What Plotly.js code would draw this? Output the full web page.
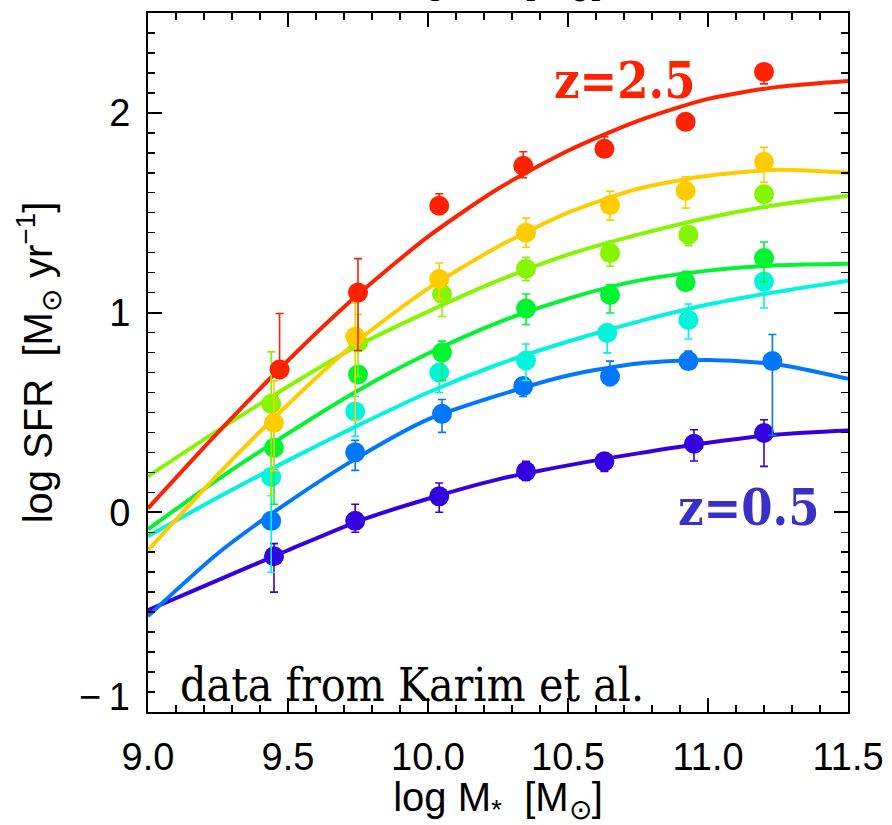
<!DOCTYPE html>
<html>
<head>
<meta charset="utf-8">
<script src="https://cdn.plot.ly/plotly-3.0.1.min.js"></script>
<style>
  html, body { margin: 0; padding: 0; background: #fff; }
  #chart { width: 892px; height: 825px; }
</style>
</head>
<body>
<div id="chart"></div>
<script>
// Star-forming main sequence: log SFR vs log stellar mass, z = 0.5 ... 2.5
// Model curves sampled on a common mass grid
const massGrid = [9.0, 9.25, 9.5, 9.75, 10.0, 10.25, 10.5, 10.75, 11.0, 11.25, 11.5];

const curveZ05 = [-0.49, -0.34, -0.19, -0.045, 0.068, 0.165, 0.235, 0.295, 0.348, 0.39, 0.41];
const curveZ08 = [-0.52, -0.205, 0.05, 0.275, 0.465, 0.585, 0.685, 0.745, 0.762, 0.74, 0.668];
const curveZ11 = [-0.12, 0.075, 0.26, 0.435, 0.60, 0.74, 0.855, 0.955, 1.04, 1.105, 1.16];
const curveZ14 = [-0.085, 0.165, 0.395, 0.61, 0.795, 0.95, 1.07, 1.16, 1.21, 1.237, 1.245];
const curveZ17 = [0.18, 0.41, 0.63, 0.835, 1.005, 1.16, 1.29, 1.39, 1.475, 1.54, 1.585];
const curveZ21 = [-0.19, 0.19, 0.54, 0.86, 1.12, 1.33, 1.50, 1.62, 1.685, 1.715, 1.70];
const curveZ25 = [0.02, 0.40, 0.76, 1.09, 1.38, 1.62, 1.81, 1.96, 2.07, 2.13, 2.16];

// Stacked measurements (Karim et al.) per redshift bin
const massZ05 = [9.45, 9.74, 10.04, 10.35, 10.63, 10.95, 11.2];
const sfrZ05  = [-0.22, -0.043, 0.08, 0.205, 0.255, 0.343, 0.397];
const errUpZ05 = [0.063, 0.083, 0.067, 0.05, 0.035, 0.07, 0.066];
const errDnZ05 = [0.18, 0.057, 0.08, 0.045, 0.05, 0.086, 0.167];

const massZ08 = [9.44, 9.74, 10.05, 10.34, 10.65, 10.93, 11.23];
const sfrZ08  = [-0.043, 0.30, 0.493, 0.632, 0.68, 0.757, 0.757];
const errUpZ08 = [0.04, 0.06, 0.072, 0.04, 0.077, 0.05, 0.133];
const errDnZ08 = [0.04, 0.09, 0.093, 0.052, 0.045, 0.04, 0.372];

const massZ11 = [9.44, 9.74, 10.04, 10.35, 10.64, 10.93, 11.2];
const sfrZ11  = [0.177, 0.505, 0.70, 0.76, 0.898, 0.963, 1.155];
const errUpZ11 = [0.15, 0.075, 0.04, 0.083, 0.045, 0.08, 0.04];
const errDnZ11 = [0.477, 0.125, 0.10, 0.10, 0.10, 0.095, 0.132];

const massZ14 = [9.45, 9.75, 10.05, 10.35, 10.65, 10.92, 11.2];
const sfrZ14  = [0.323, 0.69, 0.80, 1.02, 1.088, 1.152, 1.273];
const errUpZ14 = [0.26, 0.04, 0.057, 0.073, 0.052, 0.055, 0.08];
const errDnZ14 = [0.283, 0.04, 0.14, 0.08, 0.09, 0.03, 0.12];

const massZ17 = [9.44, 9.75, 10.05, 10.35, 10.65, 10.93, 11.2];
const sfrZ17  = [0.543, 0.85, 1.093, 1.22, 1.298, 1.39, 1.593];
const errUpZ17 = [0.26, 0.14, 0.06, 0.057, 0.059, 0.04, 0.04];
const errDnZ17 = [0.46, 0.17, 0.113, 0.06, 0.066, 0.055, 0.07];

const massZ21 = [9.45, 9.74, 10.04, 10.35, 10.65, 10.92, 11.2];
const sfrZ21  = [0.448, 0.88, 1.168, 1.40, 1.538, 1.61, 1.755];
const errUpZ21 = [0.21, 0.17, 0.08, 0.073, 0.07, 0.07, 0.072];
const errDnZ21 = [0.24, 0.42, 0.10, 0.073, 0.075, 0.087, 0.103];

const massZ25 = [9.47, 9.75, 10.04, 10.34, 10.63, 10.92, 11.2];
const sfrZ25  = [0.715, 1.10, 1.535, 1.735, 1.82, 1.955, 2.205];
const errUpZ25 = [0.28, 0.17, 0.06, 0.07, 0.06, 0.03, 0.03];
const errDnZ25 = [0.03, 0.29, 0.03, 0.06, 0.03, 0.03, 0.06];

// Rainbow colours from low to high redshift
const colours = ['#3300e0', '#0077ff', '#00f5dc', '#00f530', '#88f500', '#ffcc00', '#ff2200'];

const curves = [curveZ05, curveZ08, curveZ11, curveZ14, curveZ17, curveZ21, curveZ25];
const pointSets = [
  [massZ05, sfrZ05, errUpZ05, errDnZ05],
  [massZ08, sfrZ08, errUpZ08, errDnZ08],
  [massZ11, sfrZ11, errUpZ11, errDnZ11],
  [massZ14, sfrZ14, errUpZ14, errDnZ14],
  [massZ17, sfrZ17, errUpZ17, errDnZ17],
  [massZ21, sfrZ21, errUpZ21, errDnZ21],
  [massZ25, sfrZ25, errUpZ25, errDnZ25]
];

const traces = [];
curves.forEach((c, i) => {
  traces.push({
    x: massGrid, y: c, type: 'scatter', mode: 'lines',
    line: { color: colours[i], width: 4, shape: 'spline', smoothing: 0.7 },
    hoverinfo: 'skip'
  });
});
pointSets.forEach((p, i) => {
  traces.push({
    x: p[0], y: p[1], type: 'scatter', mode: 'markers',
    marker: { color: colours[i], size: 20, line: { width: 0 } },
    error_y: { type: 'data', symmetric: false, array: p[2], arrayminus: p[3],
               color: colours[i], thickness: 1.6, width: 4 }
  });
});

const sans = 'Liberation Sans, Arial, sans-serif';
const serifC = 'DejaVu Serif Condensed, DejaVu Serif, serif';
const massTitle = 'log M<sub>*</sub>  [M<sub>⊙</sub>]';

const layout = {
  width: 892, height: 825,
  margin: { l: 148, r: 44, t: 13, b: 113 },
  paper_bgcolor: '#ffffff', plot_bgcolor: '#ffffff',
  showlegend: false,
  font: { family: sans, color: '#000' },
  xaxis: {
    range: [9, 11.5], tick0: 9, dtick: 0.5, tickformat: '.1f',
    ticks: 'inside', ticklen: 14, tickwidth: 2, tickcolor: '#000',
    showline: true, linecolor: '#000', linewidth: 2, mirror: 'allticks',
    showgrid: false, zeroline: false,
    minor: { tick0: 9, dtick: 0.1, ticks: 'inside', ticklen: 7, tickwidth: 1.5, tickcolor: '#000', showgrid: false },
    tickfont: { family: sans, size: 38, color: '#000' },
    ticklabelstandoff: 10,
    title: { text: massTitle, font: { family: sans, size: 40, color: '#000' }, standoff: 4 }
  },
  yaxis: {
    range: [-1, 2.5], tickmode: 'array', tickvals: [0, 1, 2], ticktext: ['0', '1', '2'],
    ticks: 'inside', ticklen: 14, tickwidth: 2, tickcolor: '#000',
    showline: true, linecolor: '#000', linewidth: 2, mirror: 'allticks',
    showgrid: false, zeroline: false,
    minor: { tickmode: 'linear', tick0: 0, dtick: 0.1, ticks: 'inside', ticklen: 7, tickwidth: 1.5, tickcolor: '#000', showgrid: false },
    tickfont: { family: sans, size: 38, color: '#000' },
    ticklabelstandoff: 8,
    title: { text: 'log SFR  [M<sub>⊙</sub> yr<sup>−1</sup>]', font: { family: sans, size: 40, color: '#000' }, standoff: 44 }
  },
  annotations: [
    { text: 'z=2.5', xref: 'x', yref: 'y', x: 10.7, y: 2.16, showarrow: false,
      font: { family: serifC, size: 50, color: '#ff2200', weight: 'bold' } },
    { text: 'z=0.5', xref: 'x', yref: 'y', x: 11.143, y: 0.025, showarrow: false,
      font: { family: serifC, size: 50, color: '#3a30c8', weight: 'bold' } },
    { text: 'data from Karim et al.', xref: 'x', yref: 'y', x: 9.107, y: -0.865,
      xanchor: 'left', yanchor: 'middle', showarrow: false,
      font: { family: serifC, size: 46, color: '#000' } },
    { text: '−\u20091', xref: 'paper', yref: 'y', x: 0, y: -0.925, xanchor: 'right', xshift: -16,
      showarrow: false, font: { family: sans, size: 38, color: '#000' } },
    // top axis title, mostly beyond the upper page edge
    { text: massTitle, xref: 'paper', yref: 'paper', x: 0.5, y: 1, yanchor: 'bottom', yshift: 4,
      showarrow: false, font: { family: sans, size: 40, color: '#000' } }
  ]
};

Plotly.newPlot('chart', traces, layout, { displayModeBar: false, staticPlot: true });
</script>
</body>
</html>
